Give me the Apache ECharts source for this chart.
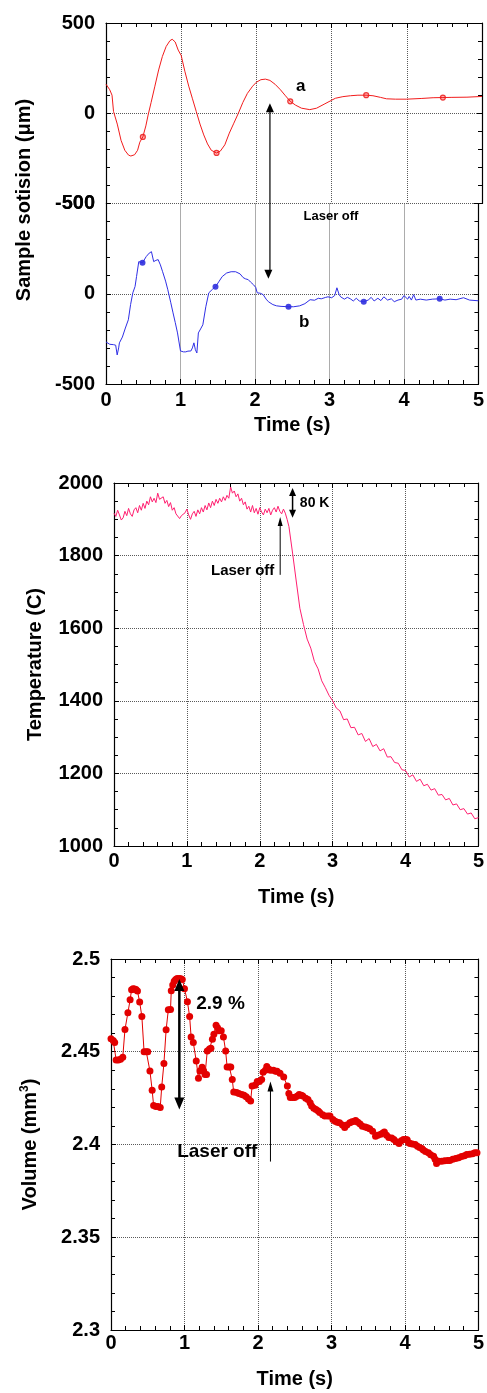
<!DOCTYPE html>
<html>
<head>
<meta charset="utf-8">
<script src="https://cdn.jsdelivr.net/npm/echarts@6/dist/echarts.min.js"></script>
<style>
  html, body { margin: 0; padding: 0; background: #fff; }
  #main { width: 487px; height: 1393px; }
</style>
</head>
<body>
<div id="main"></div>
<script>
// ---- Sample position, curve a (upper trace), time (s) / position (µm)
const posA = [
  [0,161],[0.05,130],[0.08,100],[0.1,10],[0.12,0],[0.15,-60],[0.2,-150],[0.25,-205],[0.3,-232],[0.33,-237],
  [0.38,-230],[0.42,-205],[0.45,-160],[0.49,-131],[0.53,-70],[0.56,-10],[0.6,60],[0.65,150],[0.7,240],[0.75,315],
  [0.8,370],[0.85,402],[0.88,410],[0.92,395],[0.96,350],[1.0,320],[1.05,230],[1.1,150],[1.15,80],[1.2,10],
  [1.25,-60],[1.3,-120],[1.35,-170],[1.4,-205],[1.47,-220],[1.52,-210],[1.58,-175],[1.64,-110],[1.7,-55],[1.76,0],
  [1.82,60],[1.88,110],[1.95,150],[2.0,172],[2.06,186],[2.12,189],[2.18,182],[2.25,160],[2.32,130],[2.38,100],
  [2.45,66],[2.52,45],[2.6,28],[2.71,20],[2.8,28],[2.9,50],[3.0,72],[3.05,83],[3.15,92],[3.25,97],
  [3.35,100],[3.46,100],[3.55,97],[3.65,88],[3.73,80],[3.85,78],[4.0,78],[4.2,82],[4.35,86],[4.48,87],
  [4.6,88],[4.8,89],[5.0,93]
];
const markA = [[0.49,-131],[1.47,-220],[2.45,66],[3.46,100],[4.48,87]];

// ---- Sample position, curve b (lower trace)
const posB = [
  [0,-267],[0.05,-280],[0.1,-282],[0.13,-285],[0.15,-339],[0.17,-300],[0.18,-272],[0.22,-240],[0.26,-190],[0.3,-144],
  [0.33,-60],[0.36,5],[0.39,40],[0.41,95],[0.44,178],[0.49,172],[0.54,206],[0.58,225],[0.61,233],[0.63,233],
  [0.64,178],[0.67,185],[0.7,189],[0.73,160],[0.76,122],[0.8,70],[0.83,22],[0.87,-50],[0.9,-106],[0.93,-160],
  [0.96,-217],[1.0,-317],[1.04,-322],[1.07,-322],[1.1,-318],[1.14,-317],[1.16,-300],[1.18,-272],[1.2,-310],[1.22,-328],
  [1.24,-217],[1.27,-195],[1.3,-172],[1.34,-72],[1.38,5],[1.4,-5],[1.43,25],[1.47,39],[1.52,70],[1.56,95],
  [1.62,115],[1.68,122],[1.74,122],[1.8,110],[1.84,90],[1.87,83],[1.91,78],[1.94,65],[1.98,50],[2.01,35],
  [2.03,5],[2.07,3],[2.11,-5],[2.15,-30],[2.18,-44],[2.24,-60],[2.29,-67],[2.35,-70],[2.45,-72],[2.52,-72],
  [2.6,-67],[2.67,-55],[2.74,-33],[2.8,-36],[2.85,-25],[2.89,-28],[2.95,-20],[2.98,-17],[3.03,-22],[3.07,-10],
  [3.1,33],[3.13,-5],[3.15,-17],[3.2,-30],[3.24,-20],[3.28,-28],[3.32,-40],[3.36,-25],[3.4,-40],[3.46,-44],
  [3.52,-35],[3.56,-20],[3.6,-40],[3.65,-25],[3.69,-38],[3.73,-17],[3.78,-35],[3.83,-28],[3.87,-44],[3.92,-35],
  [3.97,-30],[4.0,-10],[4.02,0],[4.05,-30],[4.07,-15],[4.1,-35],[4.13,-5],[4.16,-35],[4.22,-30],[4.3,-35],
  [4.38,-30],[4.48,-28],[4.55,-35],[4.62,-30],[4.7,-33],[4.8,-22],[4.88,-35],[5.0,-39]
];
const markB = [[0.49,172],[1.47,39],[2.45,-72],[3.46,-44],[4.48,-28]];

// ---- Temperature (C) vs time (s)
const temperature = [
  [0.000,1917],[0.025,1908],[0.050,1925],[0.075,1912],[0.100,1898],[0.125,1904],[0.150,1922],[0.175,1910],[0.200,1930],[0.225,1915],
  [0.250,1908],[0.275,1926],[0.300,1932],[0.325,1918],[0.350,1938],[0.375,1925],[0.400,1944],[0.425,1930],[0.450,1950],[0.475,1940],
  [0.500,1962],[0.525,1948],[0.550,1958],[0.575,1946],[0.600,1972],[0.625,1955],[0.650,1950],[0.675,1962],[0.700,1944],[0.725,1952],
  [0.750,1935],[0.775,1946],[0.800,1925],[0.825,1932],[0.850,1915],[0.875,1920],[0.900,1902],[0.925,1910],[0.950,1906],[0.975,1918],
  [1.000,1928],[1.025,1912],[1.050,1900],[1.075,1915],[1.100,1922],[1.125,1908],[1.150,1926],[1.175,1915],[1.200,1932],[1.225,1920],
  [1.250,1938],[1.275,1926],[1.300,1945],[1.325,1932],[1.350,1950],[1.375,1938],[1.400,1955],[1.425,1944],[1.450,1958],[1.475,1948],
  [1.500,1962],[1.525,1952],[1.550,1966],[1.575,1958],[1.600,1989],[1.625,1972],[1.650,1978],[1.675,1962],[1.700,1970],[1.725,1950],
  [1.750,1958],[1.775,1940],[1.800,1948],[1.825,1928],[1.850,1936],[1.875,1920],[1.900,1938],[1.925,1918],[1.950,1930],[1.975,1914],
  [2.000,1932],[2.025,1920],[2.050,1912],[2.075,1928],[2.100,1918],[2.125,1930],[2.150,1912],[2.175,1925],[2.200,1932],[2.225,1920],
  [2.250,1936],[2.275,1922],[2.300,1915],[2.325,1928],[2.350,1917],[2.375,1900],[2.400,1880],
  [2.45,1807],[2.5,1730],[2.55,1655],[2.6,1610],[2.65,1570],[2.7,1545],[2.75,1508],[2.8,1488],[2.85,1455],[2.9,1436],
  [2.95,1415],[3.0,1400],[3.05,1380],[3.1,1372],[3.15,1348],[3.2,1350],[3.25,1326],[3.3,1327],[3.35,1306],[3.4,1310],
  [3.45,1288],[3.5,1296],[3.55,1274],[3.6,1280],[3.65,1262],[3.7,1268],[3.75,1245],[3.8,1246],[3.85,1230],[3.9,1228],
  [3.95,1210],[4.0,1208],[4.05,1190],[4.1,1196],[4.15,1178],[4.2,1184],[4.25,1166],[4.3,1170],[4.35,1154],[4.4,1158],
  [4.45,1140],[4.5,1142],[4.55,1127],[4.6,1131],[4.65,1113],[4.7,1116],[4.75,1100],[4.8,1103],[4.85,1088],[4.9,1091],
  [4.95,1075],[5.0,1078]
];

// ---- Volume (mm3) vs time (s)
const volume = [
  [0.00,2.457],[0.03,2.456],[0.05,2.455],[0.07,2.4456],[0.10,2.4455],[0.13,2.446],[0.16,2.447],[0.19,2.462],[0.23,2.471],[0.26,2.478],
  [0.28,2.4834],[0.30,2.484],[0.32,2.4838],[0.34,2.4835],[0.36,2.4827],[0.39,2.4768],[0.42,2.469],[0.45,2.45],[0.48,2.45],[0.50,2.45],
  [0.53,2.4396],[0.56,2.4293],[0.58,2.421],[0.61,2.4205],[0.64,2.4205],[0.67,2.42],[0.69,2.431],[0.72,2.4437],[0.75,2.4618],[0.78,2.4726],
  [0.81,2.4728],[0.82,2.4829],[0.84,2.486],[0.86,2.488],[0.88,2.489],[0.90,2.4895],[0.93,2.4895],[0.95,2.4893],[0.97,2.489],[1.00,2.484],
  [1.04,2.477],[1.07,2.469],[1.09,2.458],[1.12,2.455],[1.16,2.445],[1.19,2.4357],[1.21,2.4396],[1.24,2.4416],[1.26,2.4398],[1.28,2.4378],
  [1.30,2.4378],[1.31,2.4504],[1.34,2.4515],[1.36,2.4519],[1.38,2.4568],[1.40,2.4595],[1.43,2.4643],[1.45,2.463],[1.47,2.4613],[1.50,2.4613],
  [1.53,2.458],[1.56,2.4504],[1.58,2.4418],[1.61,2.4418],[1.63,2.4418],[1.65,2.435],[1.67,2.4283],[1.71,2.428],[1.74,2.4275],[1.78,2.427],
  [1.81,2.4265],[1.84,2.4258],[1.87,2.4245],[1.90,2.4234],[1.92,2.4315],[1.96,2.432],[1.99,2.434],[2.02,2.434],[2.05,2.435],[2.07,2.439],
  [2.10,2.44],[2.12,2.442],[2.15,2.4405],[2.17,2.44],[2.21,2.44],[2.24,2.4395],[2.26,2.4395],[2.30,2.4384],[2.35,2.4364],[2.40,2.4315],
  [2.42,2.4275],[2.44,2.4254],[2.47,2.4254],[2.50,2.4254],[2.53,2.426],[2.56,2.427],[2.59,2.4265],[2.61,2.4262],[2.65,2.425],[2.68,2.4243],
  [2.71,2.4225],[2.73,2.4207],[2.76,2.4195],[2.79,2.4189],[2.82,2.418],[2.84,2.4173],[2.88,2.416],[2.91,2.4153],[2.95,2.4153],[2.98,2.4153],
  [3.02,2.4135],[3.05,2.4126],[3.08,2.412],[3.11,2.4117],[3.15,2.4105],[3.18,2.4092],[3.21,2.4105],[3.25,2.4117],[3.28,2.4122],[3.31,2.4126],
  [3.33,2.413],[3.36,2.412],[3.39,2.411],[3.42,2.4099],[3.46,2.4095],[3.49,2.409],[3.52,2.4085],[3.56,2.4072],[3.60,2.4045],[3.63,2.405],
  [3.67,2.4055],[3.70,2.4062],[3.72,2.4067],[3.75,2.405],[3.78,2.4038],[3.82,2.4035],[3.85,2.4027],[3.88,2.4015],[3.92,2.4005],[3.95,2.402],
  [3.98,2.4027],[4.01,2.4027],[4.03,2.4025],[4.05,2.401],[4.07,2.4005],[4.10,2.4003],[4.14,2.4],[4.17,2.399],[4.20,2.3984],[4.23,2.3978],
  [4.25,2.397],[4.28,2.3962],[4.32,2.3955],[4.35,2.3945],[4.39,2.3937],[4.41,2.392],[4.43,2.3897],[4.46,2.391],[4.50,2.391],[4.54,2.3912],
  [4.58,2.3914],[4.61,2.3914],[4.65,2.392],[4.69,2.3925],[4.73,2.3928],[4.77,2.3935],[4.81,2.394],[4.84,2.3946],[4.88,2.3948],[4.92,2.395],
  [4.95,2.3955],[4.98,2.3955]
];

// ---- Axis ticks
const timeTicks = ['0','1','2','3','4','5'];
const posTicks = [-500, 0, 500];
const tempTicks = [1000, 1200, 1400, 1600, 1800, 2000];
const volTicks = [2.3, 2.35, 2.4, 2.45, 2.5];

const FONT = '"Liberation Sans", Arial, Helvetica, sans-serif';
const labelStyle = { fontFamily: FONT, fontWeight: 'bold', fontSize: 20, color: '#000' };
const gridLine = { show: true, lineStyle: { color: '#5a5a5a', type: [1, 1], width: 1 } };
const axisLine = { show: true, onZero: false, lineStyle: { color: '#000', width: 1.2 } };

function step(ticks) { return ticks[1] - ticks[0]; }

function xMain(gridIndex, opts) {
  return Object.assign({
    type: 'value', gridIndex, position: 'bottom', min: 0, max: timeTicks.length - 1, interval: 1,
    axisLine: axisLine,
    axisTick: { show: true, inside: true, length: 5, lineStyle: { color: '#000' } },
    minorTick: { show: true, splitNumber: 5, length: 4, lineStyle: { color: '#000' } },
    axisLabel: Object.assign({ show: true, margin: 6, formatter: v => timeTicks[Math.round(v)] }, labelStyle),
    splitLine: gridLine,
    nameLocation: 'middle',
    nameTextStyle: labelStyle
  }, opts);
}
function xTop(gridIndex) {
  return {
    type: 'value', gridIndex, position: 'top', min: 0, max: timeTicks.length - 1, interval: 1,
    axisLine: axisLine,
    axisTick: { show: true, inside: true, length: 5, lineStyle: { color: '#000' } },
    minorTick: { show: true, splitNumber: 5, length: 4, lineStyle: { color: '#000' } },
    axisLabel: { show: false }, splitLine: { show: false }
  };
}
function yPair(gridIndex, ticks, minorSplit, fmt, nameOpts) {
  const base = {
    type: 'value', gridIndex, min: ticks[0], max: ticks[ticks.length - 1], interval: step(ticks),
    axisLine: axisLine,
    axisTick: { show: true, inside: true, length: 5, lineStyle: { color: '#000' } },
    minorTick: { show: true, splitNumber: minorSplit, length: 4, lineStyle: { color: '#000' } }
  };
  const left = Object.assign({}, base, {
    position: 'left',
    axisLabel: Object.assign({ show: true, margin: 11, formatter: fmt }, labelStyle),
    splitLine: gridLine
  }, nameOpts || {});
  const right = Object.assign({}, base, {
    position: 'right', axisLabel: { show: false }, splitLine: { show: false }
  });
  return [left, right];
}

const fmtInt = v => String(Math.round(v));
const fmtVol = v => String(parseFloat(v.toFixed(2)));

const yAxes = [].concat(
  yPair(0, posTicks, 5, fmtInt),
  yPair(1, posTicks, 5, fmtInt),
  yPair(2, tempTicks, 4, fmtInt, {
    name: 'Temperature (C)', nameLocation: 'middle', nameGap: 69, nameTextStyle: labelStyle
  }),
  yPair(3, volTicks, 5, fmtVol, {
    name: 'Volume (mm{sup|3})', nameLocation: 'middle', nameGap: 70,
    nameTextStyle: Object.assign({}, labelStyle, {
      rich: { sup: { fontFamily: FONT, fontWeight: 'bold', fontSize: 12, verticalAlign: 'top', padding: [0, 0, 10, 0], color: '#000' } }
    })
  })
);

const option = {
  animation: false,
  backgroundColor: '#fff',
  grid: [
    { left: 106, top: 23, width: 376, height: 180.5 },
    { left: 106, top: 203.5, width: 376, height: 180.5 },
    { left: 114, top: 483, width: 370, height: 363 },
    { left: 111, top: 959, width: 371, height: 371 }
  ],
  xAxis: [
    // 0: upper trace, grid lines only
    xMain(0, { axisLine: { show: false }, axisTick: { show: false }, minorTick: { show: false }, axisLabel: { show: false } }),
    xTop(0),
    // 2: lower trace, labelled time axis
    xMain(1, { name: 'Time (s)', nameGap: 31 }),
    // 3-4: temperature
    xMain(2, { name: 'Time (s)', nameGap: 41, axisLabel: Object.assign({ show: true, margin: 5, formatter: v => timeTicks[Math.round(v)] }, labelStyle) }),
    xTop(2),
    // 5-6: volume
    xMain(3, { name: 'Time (s)', nameGap: 39, axisLabel: Object.assign({ show: true, margin: 3, formatter: v => timeTicks[Math.round(v)] }, labelStyle) }),
    xTop(3)
  ],
  yAxis: yAxes,
  series: [
    { type: 'line', xAxisIndex: 0, yAxisIndex: 0, data: posA, showSymbol: false, symbol: 'none',
      lineStyle: { color: '#f21c1c', width: 1 } },
    { type: 'scatter', xAxisIndex: 0, yAxisIndex: 0, data: markA, symbol: 'circle', symbolSize: 5,
      itemStyle: { color: '#ff9a9a', borderColor: '#e81010', borderWidth: 1.2 } },
    { type: 'line', xAxisIndex: 2, yAxisIndex: 2, data: posB, showSymbol: false, symbol: 'none',
      lineStyle: { color: '#2f2fe6', width: 1 } },
    { type: 'scatter', xAxisIndex: 2, yAxisIndex: 2, data: markB, symbol: 'circle', symbolSize: 6,
      itemStyle: { color: '#1515d8' } },
    { type: 'line', xAxisIndex: 3, yAxisIndex: 4, data: temperature, showSymbol: false, symbol: 'none',
      lineStyle: { color: '#ff1f70', width: 1 } },
    { type: 'line', xAxisIndex: 5, yAxisIndex: 6, data: volume, symbol: 'circle', symbolSize: 7, showSymbol: true,
      itemStyle: { color: '#e30000' }, lineStyle: { color: '#e30000', width: 1 } }
  ]
};

const chart = echarts.init(document.getElementById('main'), null, { renderer: 'canvas' });
chart.setOption(option);

// ---- Annotations placed in data coordinates
const P = (xi, yi, pt) => chart.convertToPixel({ xAxisIndex: xi, yAxisIndex: yi }, pt);

function headUp(x, y, w, h) {
  return { type: 'polygon', shape: { points: [[x, y], [x - w / 2, y + h], [x + w / 2, y + h]] }, style: { fill: '#000' }, z: 100 };
}
function headDown(x, y, w, h) {
  return { type: 'polygon', shape: { points: [[x, y], [x - w / 2, y - h], [x + w / 2, y - h]] }, style: { fill: '#000' }, z: 100 };
}
function vline(x, y1, y2, lw) {
  return { type: 'line', shape: { x1: x, y1: y1, x2: x, y2: y2 }, style: { stroke: '#000', lineWidth: lw }, z: 100 };
}
function doubleArrow(top, bottom, w, h, lw) {
  return [vline(top[0], top[1] + h - 1, bottom[1] - h + 1, lw), headUp(top[0], top[1], w, h), headDown(bottom[0], bottom[1], w, h)];
}
function upArrow(tip, bottomY, w, h, lw) {
  return [vline(tip[0], tip[1] + h - 1, bottomY, lw), headUp(tip[0], tip[1], w, h)];
}
function label(pt, text, size, align) {
  return { type: 'text', x: pt[0], y: pt[1], z: 100,
    style: { text, fill: '#000', font: 'bold ' + size + 'px ' + FONT, align: align || 'left', verticalAlign: 'middle' } };
}

const g = [];
// position traces
g.push.apply(g, doubleArrow(P(0, 0, [2.18, 55]), P(2, 2, [2.18, 83]), 8, 9, 1.2));
g.push(label(P(0, 0, [2.59, 150]), 'a', 17, 'center'));
g.push(label(P(2, 2, [2.66, -156]), 'b', 17, 'center'));
g.push(label(P(2, 2, [3.02, 428]), 'Laser off', 13, 'center'));
g.push({ type: 'text', x: 24, y: 200, rotation: Math.PI / 2, z: 100,
  style: { text: 'Sample sotision (\u03bcm)', fill: '#000', font: 'bold 20px ' + FONT, align: 'center', verticalAlign: 'middle' } });
// temperature
g.push.apply(g, doubleArrow(P(3, 4, [2.45, 1986]), P(3, 4, [2.45, 1904]), 7, 8, 1.5));
g.push(label(P(3, 4, [2.55, 1945]), '80 K', 14, 'left'));
g.push(label(P(3, 4, [2.2, 1758]), 'Laser off', 15, 'right'));
g.push.apply(g, upArrow(P(3, 4, [2.28, 1906]), P(3, 4, [2.28, 1747])[1], 5, 9, 1));
// volume
g.push.apply(g, doubleArrow(P(5, 6, [0.93, 2.4892]), P(5, 6, [0.93, 2.4189]), 10, 12, 2.5));
g.push(label(P(5, 6, [1.16, 2.4757]), '2.9 %', 19, 'left'));
g.push(label(P(5, 6, [0.90, 2.3962]), 'Laser off', 19, 'left'));
g.push.apply(g, upArrow(P(5, 6, [2.17, 2.434]), P(5, 6, [2.17, 2.3908])[1], 6, 10, 1));

chart.setOption({ graphic: g });
</script>
</body>
</html>
